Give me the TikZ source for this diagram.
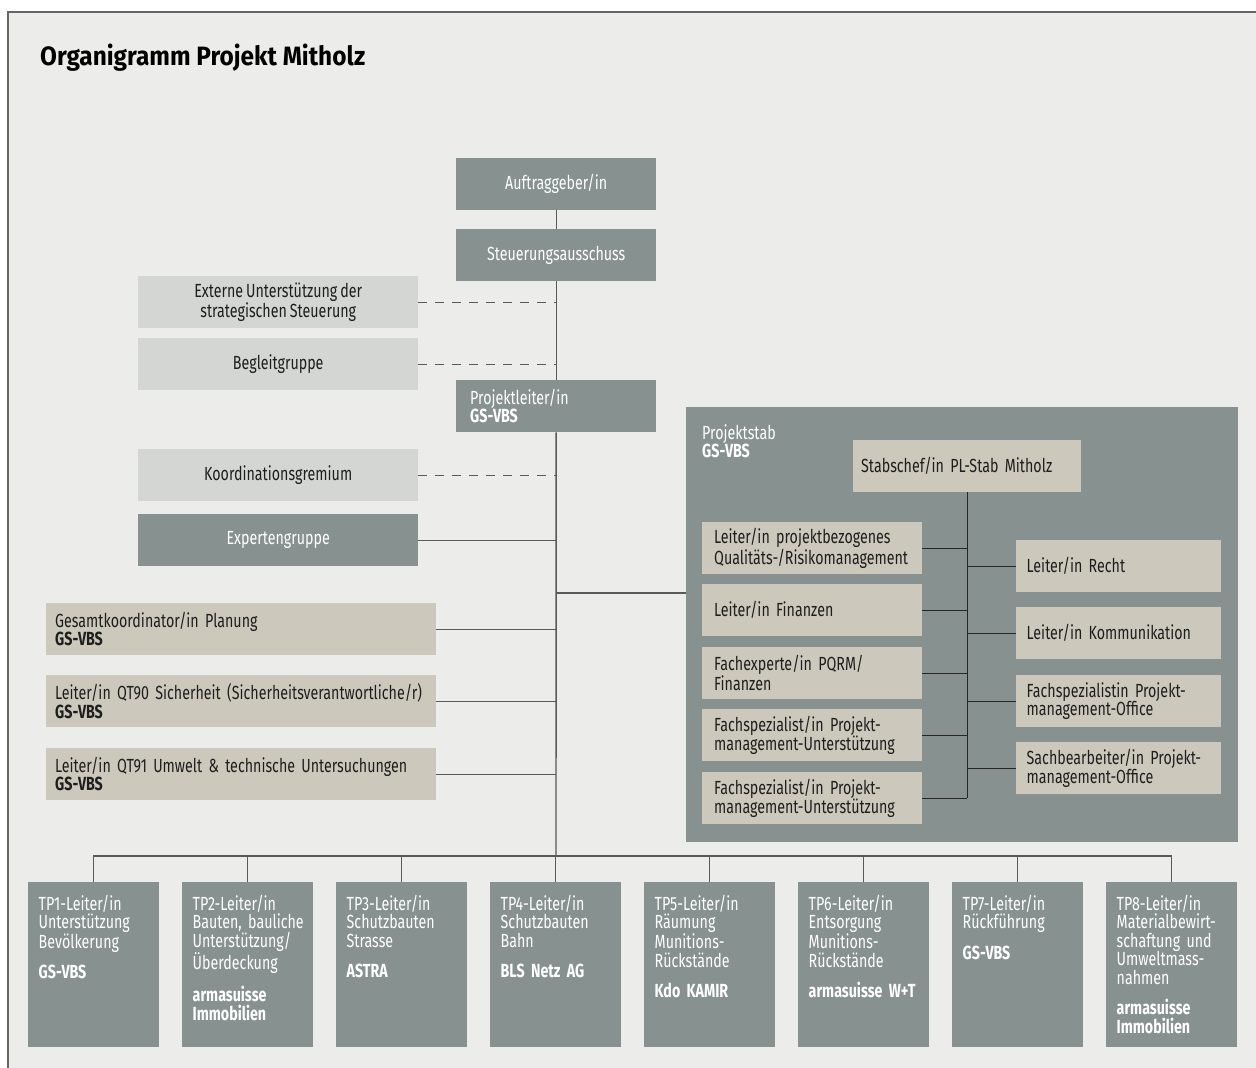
\documentclass[tikz,border=0pt]{standalone}
\usepackage{fontspec}
\setmainfont[FakeStretch=0.75,WordSpace=0.8]{Fira Sans}
\newfontfamily\titlefont[FakeStretch=0.92]{Fira Sans}
\definecolor{paper}{HTML}{ECEDEA}
\definecolor{stone}{HTML}{87918F}
\definecolor{mist}{HTML}{D4D6D4}
\definecolor{sand}{HTML}{CCC8BC}
\definecolor{ink}{HTML}{1E1E1E}
\hyphenpenalty=10000
\exhyphenpenalty=10000

\begin{document}
\begin{tikzpicture}[x=1pt,y=-1pt,
		box/.style={rectangle,inner sep=0pt,anchor=north west,minimum height=52pt,font=\fontsize{19}{18.5}\selectfont},
		darkbox/.style={box,fill=stone,text=white},
		lightbox/.style={box,fill=mist,text=ink,minimum width=280pt,align=center},
		sandbox/.style={box,fill=sand,text=ink,align=left},
		tpbox/.style={darkbox,text width=110pt,align=left,inner xsep=10.5pt,inner ysep=13pt,text height=15pt,text depth=124pt,minimum height=0pt},
		trunk/.style={line width=1.4pt,draw=black!65},
		staff/.style={line width=1.4pt,draw=black!85},
		dashlink/.style={trunk,dash pattern=on 9pt off 8pt}]
		\useasboundingbox (0,0) rectangle (1256,1068);
		\fill[paper] (8,12) rectangle (1256,1068);
		\draw[line width=1.5pt,black!60] (8,1068) -- (8,12) -- (1256,12);
		
		\node[anchor=west,inner sep=0pt,text=black,font=\titlefont\fontsize{26.5}{30}\selectfont\bfseries](title)at(40,58) {Organigramm Projekt Mitholz};
		
		\node[darkbox,minimum width=200pt](auftrag)at(456,158) {Auftraggeber/in};
		\node[darkbox,minimum width=200pt](steuer)at(456,229) {Steuerungsausschuss};
		\node[lightbox](extern)at(138,276) {Externe Unterstützung der\\strategischen Steuerung};
		\node[lightbox](begleit)at(138,338) {Begleitgruppe};
		\node[darkbox,text width=172pt,inner xsep=14pt,align=left](projleit)at(456,380) {Projektleiter/in\\\textbf{GS-VBS}};
		\node[lightbox](koord)at(138,449) {Koordinationsgremium};
		\node[darkbox,minimum width=280pt](experten)at(138,514) {Expertengruppe};
		\node[sandbox,text width=372pt,inner xsep=9pt](gesamt)at(46,603) {Gesamtkoordinator/in Planung\\\textbf{GS-VBS}};
		\node[sandbox,text width=372pt,inner xsep=9pt](qt90)at(46,675) {Leiter/in~QT90~Sicherheit~(Sicherheitsverantwortliche/r)\\\textbf{GS-VBS}};
		\node[sandbox,text width=372pt,inner xsep=9pt](qt91)at(46,748) {Leiter/in~QT91~Umwelt~\&~technische~Untersuchungen\\\textbf{GS-VBS}};
		
		% Projektstab
		\node[darkbox,minimum width=552pt,minimum height=435pt](stab)at(686,407) {};
		\node[anchor=north west,inner sep=0pt,align=left,text=white,font=\fontsize{19}{18.5}\selectfont](stabname)at(702,424) {Projektstab\\\textbf{GS-VBS}};
		\node[sandbox,text width=212pt,inner xsep=8pt](chef)at(853,440) {Stabschef/in PL-Stab Mitholz};
		\node[sandbox,text width=196pt,inner xsep=12pt](l1)at(702,522) {Leiter/in~projektbezogenes\\Qualitäts-/Risikomanagement};
		\node[sandbox,text width=196pt,inner xsep=12pt](l2)at(702,584) {Leiter/in Finanzen};
		\node[sandbox,text width=196pt,inner xsep=12pt](l3)at(702,647) {Fachexperte/in PQRM/\\Finanzen};
		\node[sandbox,text width=196pt,inner xsep=12pt](l4)at(702,709) {Fachspezialist/in~Projekt-\\management-Unterstützung};
		\node[sandbox,text width=196pt,inner xsep=12pt](l5)at(702,772) {Fachspezialist/in~Projekt-\\management-Unterstützung};
		\node[sandbox,text width=184pt,inner xsep=10.5pt](r1)at(1016,540) {Leiter/in Recht};
		\node[sandbox,text width=184pt,inner xsep=10.5pt](r2)at(1016,607) {Leiter/in~Kommunikation};
		\node[sandbox,text width=184pt,inner xsep=10.5pt](r3)at(1016,675) {Fachspezialistin~Projekt-\\management-Office};
		\node[sandbox,text width=184pt,inner xsep=10.5pt](r4)at(1016,742) {Sachbearbeiter/in~Projekt-\\management-Office};
		
		% Teilprojekte
		\node[tpbox](tp1)at(28,882) {TP1-Leiter/in\\Unterstützung\\Bevölkerung\\[12pt]\textbf{GS-VBS}};
		\node[tpbox](tp2)at(182,882) {TP2-Leiter/in\\Bauten,~bauliche\\Unterstützung/\\Überdeckung\\[12pt]\textbf{armasuisse}\\\textbf{Immobilien}};
		\node[tpbox](tp3)at(336,882) {TP3-Leiter/in\\Schutzbauten\\Strasse\\[12pt]\textbf{ASTRA}};
		\node[tpbox](tp4)at(490,882) {TP4-Leiter/in\\Schutzbauten\\Bahn\\[12pt]\textbf{BLS~Netz~AG}};
		\node[tpbox](tp5)at(644,882) {TP5-Leiter/in\\Räumung\\Munitions-\\Rückstände\\[12pt]\textbf{Kdo~KAMIR}};
		\node[tpbox](tp6)at(798,882) {TP6-Leiter/in\\Entsorgung\\Munitions-\\Rückstände\\[12pt]\textbf{armasuisse~W+T}};
		\node[tpbox](tp7)at(952,882) {TP7-Leiter/in\\Rückführung\\[12pt]\textbf{GS-VBS}};
		\node[tpbox](tp8)at(1106,882) {TP8-Leiter/in\\Materialbewirt-\\schaftung~und\\Umweltmass-\\nahmen\\[12pt]\textbf{armasuisse}\\\textbf{Immobilien}};
		
		\coordinate(bus)at(556,856);
		\coordinate(stabin)at(686,593);
		\draw[trunk](auftrag) -- (steuer);
		\draw[trunk](steuer) -- (projleit);
		\draw[trunk](projleit) -- (bus);
		\draw[dashlink](extern) -- (extern -| bus);
		\draw[dashlink](begleit) -- (begleit -| bus);
		\draw[dashlink](koord) -- (koord -| bus);
		\draw[trunk](experten) -- (experten -| bus);
		\draw[trunk](gesamt) -- (gesamt -| bus);
		\draw[trunk](qt90) -- (qt90 -| bus);
		\draw[trunk](qt91) -- (qt91 -| bus);
		\draw[trunk](stabin -| bus) -- (stabin);
		
		\draw[trunk](tp1) -- (tp1 |- bus) -- (tp8 |- bus) -- (tp8);
		\draw[trunk](tp2) -- (tp2 |- bus);
		\draw[trunk](tp3) -- (tp3 |- bus);
		\draw[trunk](tp4) -- (tp4 |- bus);
		\draw[trunk](tp5) -- (tp5 |- bus);
		\draw[trunk](tp6) -- (tp6 |- bus);
		\draw[trunk](tp7) -- (tp7 |- bus);
		
		\draw[staff](chef) -- (chef |- l5);
		\draw[staff](l1) -- (l1 -| chef);
		\draw[staff](l2) -- (l2 -| chef);
		\draw[staff](l3) -- (l3 -| chef);
		\draw[staff](l4) -- (l4 -| chef);
		\draw[staff](l5) -- (l5 -| chef);
		\draw[staff](r1) -- (r1 -| chef);
		\draw[staff](r2) -- (r2 -| chef);
		\draw[staff](r3) -- (r3 -| chef);
		\draw[staff](r4) -- (r4 -| chef);
	\end{tikzpicture}
\end{document}
